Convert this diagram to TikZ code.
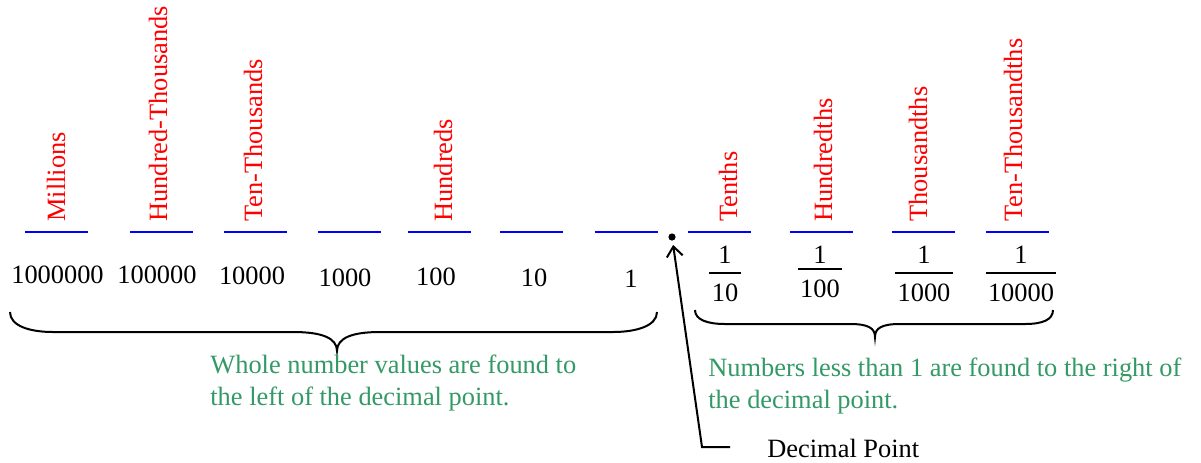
\documentclass[tikz,border=0pt]{standalone}
\usepackage{fontspec}
\setmainfont{Liberation Serif}
\usepackage{xcolor}
\usetikzlibrary{arrows.meta,positioning}
\definecolor{notegreen}{RGB}{51,153,102}

\begin{document}
\begin{tikzpicture}[x=0.5pt,y=-0.5pt,font=\fontsize{13.2}{16}\selectfont,
  slot/.style={draw=blue,line width=0.9pt},
  place/.style={text=red,rotate=90,anchor=base west,inner sep=0pt},
  digit/.style={anchor=base,inner sep=0pt},
  note/.style={text=notegreen,align=left,anchor=north west,inner sep=0pt},
  brace/.style={line width=1pt}]
\useasboundingbox (0,0) rectangle (1201,462);
% blanks for the places
\foreach \x in {56.5,161.5,255.5,349.5,439.5,531.5,626,719.5,821.5,923.5,1017.5}
  \draw[slot] (\x-31.5,232) -- (\x+31.5,232);
\foreach \x/\t [count=\i] in {65/Millions,167/Hundred-Thousands,262/Ten-Thousands,452/Hundreds,737/Tenths,832/Hundredths,927/Thousandths,1022/Ten-Thousandths}
  \node[place] (lab\i) at (\x,222) {\t};
% whole number values
\foreach \x/\y/\v [count=\i] in {57.5/283/1000000,157/283/100000,252/284/10000,345/286/1000,436/285/100,534/286/10,631/287/1}
  \node[digit] (num\i) at (\x,\y) {\v};
% fractions
\foreach \x/\y/\v [count=\i] in {725/301/10,820/297/100,924/301/1000,1021/301/10000}{
  \node[digit] (den\i) at (\x,\y) {\v};
  \node[digit] (one\i) at (\x,263) {1};
  \draw[line width=0.7pt] ([xshift=-1pt,yshift=5pt]den\i.north west) -- ([xshift=1pt,yshift=5pt]den\i.north east);
}
% braces
\draw[brace] (10,312) .. controls (10,326) and (30,332) .. (53,332) -- (293,332)
  .. controls (322,332) and (337,338) .. (337,351) .. controls (337,338) and (352,332) .. (380,332)
  -- (613,332) .. controls (636,332) and (657,326) .. (657,312);
\draw[brace] (695,310) .. controls (695,320) and (708,324) .. (725,324) -- (850,324)
  .. controls (868,324) and (875,328) .. (875,337) .. controls (875,328) and (882,324) .. (900,324)
  -- (1025,324) .. controls (1042,324) and (1053,320) .. (1053,310);
\node[note] (wholenote) at (210,355) {Whole number values are found to\\the left of the decimal point.};
\node[note] (partnote) at (708,358) {Numbers less than 1 are found to the right of\\the decimal point.};
% decimal point
\node[circle,fill,inner sep=0pt,minimum size=3.6pt] (dp) at (672,237) {};
\node[anchor=base west,inner sep=0pt] (dplab) at (767,457) {Decimal Point};
\coordinate (lead) at (730,447);
\coordinate (kink) at (702,447);
\draw[line width=1pt,shorten >=2pt,-{Straight Barb[length=5pt,width=8pt]}] (lead) -- (kink) -- (dp);
\end{tikzpicture}
\end{document}
